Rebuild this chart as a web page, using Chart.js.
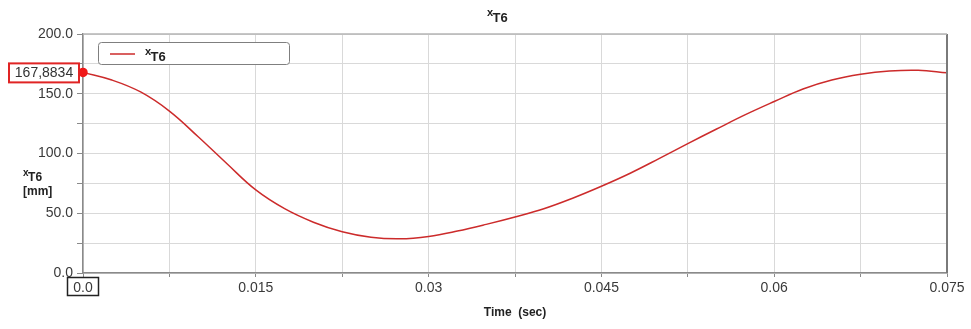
<!DOCTYPE html>
<html>
<head>
<meta charset="utf-8">
<script src="https://cdn.jsdelivr.net/npm/chart.js@4"></script>
<style>
  html, body { margin: 0; padding: 0; background: #fff; }
  #wrap { width: 971px; height: 329px; }
</style>
</head>
<body>
<div id="wrap"><canvas id="chart" width="971" height="329"></canvas></div>
<script>
// xT6 displacement over time

const timeSec = [0, 0.0025, 0.005, 0.0075, 0.01, 0.0125, 0.015, 0.0175, 0.02, 0.0225,
  0.025, 0.0275, 0.03, 0.0325, 0.035, 0.0375, 0.04, 0.0425, 0.045, 0.0475,
  0.05, 0.0525, 0.055, 0.0575, 0.06, 0.0625, 0.065, 0.0675, 0.07, 0.0725, 0.075];
const xT6 = [167.88, 161.5, 151.5, 135.5, 114.0, 91.4, 69.5, 53.8, 42.5, 34.5,
  29.9, 28.6, 30.6, 35.1, 40.7, 46.9, 53.8, 62.6, 72.6, 83.5,
  95.7, 108.3, 120.5, 132.5, 143.5, 154.0, 161.5, 166.3, 169.0, 169.6, 167.5];

const xTickValues = [0, 0.0075, 0.015, 0.0225, 0.03, 0.0375, 0.045, 0.0525, 0.06, 0.0675, 0.075];
const xTickLabels = ['0.0', '', '0.015', '', '0.03', '', '0.045', '', '0.06', '', '0.075'];
const yTickValues = [0, 25, 50, 75, 100, 125, 150, 175, 200];
const yTickLabels = ['0.0', '', '50.0', '', '100.0', '', '150.0', '', '200.0'];

const startLabel = '167,8834';
const FONT = '"Liberation Sans", Arial, sans-serif';

// draw a name like "xT6": small x raised, bold T6 below
function drawSubName(ctx, x, y, size) {
  ctx.fillStyle = '#222';
  ctx.textBaseline = 'alphabetic';
  ctx.textAlign = 'left';
  ctx.font = 'bold ' + Math.round(size * 0.85) + 'px ' + FONT;
  ctx.fillText('x', x, y - size * 0.45);
  const w = ctx.measureText('x').width;
  ctx.font = 'bold ' + size + 'px ' + FONT;
  ctx.fillText('T6', x + w - 0.5, y);
}

const decorations = {
  id: 'decorations',
  afterDraw(chart) {
    const ctx = chart.ctx;
    const area = chart.chartArea;
    ctx.save();

    // frame right and top
    ctx.strokeStyle = '#7a7a7a';
    ctx.lineWidth = 2;
    ctx.beginPath();
    ctx.moveTo(area.right, area.top);
    ctx.lineTo(area.right, area.bottom);
    ctx.stroke();
    ctx.strokeStyle = '#b5b5b5';
    ctx.lineWidth = 1.5;
    ctx.beginPath();
    ctx.moveTo(area.left, area.top);
    ctx.lineTo(area.right, area.top);
    ctx.stroke();

    // title
    drawSubName(ctx, 487, 22, 13);

    // y axis title
    drawSubName(ctx, 23, 181, 12);
    ctx.font = 'bold 12px ' + FONT;
    ctx.fillText('[mm]', 23, 195);

    // legend box
    ctx.strokeStyle = '#7f7f7f';
    ctx.lineWidth = 1;
    ctx.fillStyle = '#fff';
    ctx.beginPath();
    ctx.roundRect(98.5, 42.5, 191, 22, 3);
    ctx.fill();
    ctx.stroke();
    ctx.strokeStyle = '#cc2b2b';
    ctx.lineWidth = 1.5;
    ctx.beginPath();
    ctx.moveTo(110, 54);
    ctx.lineTo(135, 54);
    ctx.stroke();
    drawSubName(ctx, 145, 61, 13);

    // boxed start value
    const yScale = chart.scales.y;
    const py = yScale.getPixelForValue(xT6[0]);
    ctx.strokeStyle = '#e02424';
    ctx.lineWidth = 2;
    ctx.fillStyle = '#fff';
    ctx.fillRect(9, py - 9, 70, 19);
    ctx.strokeRect(9, py - 9, 70, 19);
    ctx.fillStyle = '#333';
    ctx.font = '14px ' + FONT;
    ctx.textAlign = 'center';
    ctx.textBaseline = 'middle';
    ctx.fillText(startLabel, 44, py + 1);

    // box around first x label
    ctx.strokeStyle = '#222';
    ctx.lineWidth = 1.5;
    ctx.strokeRect(67.5, 277.5, 31, 18);

    ctx.restore();
  }
};

const ctx = document.getElementById('chart');
new Chart(ctx, {
  type: 'line',
  data: {
    datasets: [{
      label: 'xT6',
      data: timeSec.map((t, i) => ({ x: t, y: xT6[i] })),
      borderColor: '#cc2b2b',
      borderWidth: 1.5,
      tension: 0.4,
      pointRadius: c => (c.dataIndex === 0 ? 4 : 0),
      pointBackgroundColor: '#f01818',
      pointBorderColor: '#f01818',
      clip: false,
      fill: false
    }]
  },
  options: {
    responsive: false,
    devicePixelRatio: 1,
    animation: false,
    layout: { padding: { top: 34, right: 24, left: 0, bottom: 0 } },
    plugins: {
      legend: { display: false },
      tooltip: { enabled: false },
      title: { display: false }
    },
    scales: {
      x: {
        type: 'linear',
        min: 0,
        max: 0.075,
        afterBuildTicks: s => { s.ticks = xTickValues.map(v => ({ value: v })); },
        afterFit: s => { s.height = 56; },
        grid: { color: '#d9d9d9', tickLength: 4, tickColor: '#8a8a8a' },
        border: { color: '#8a8a8a', width: 1.5 },
        ticks: {
          callback: (v, i) => xTickLabels[i],
          color: '#3a3a3a',
          font: { family: FONT, size: 14 },
          padding: 3,
          maxRotation: 0,
          autoSkip: false
        },
        title: {
          display: true,
          text: 'Time  (sec)',
          color: '#222',
          font: { family: FONT, size: 12, weight: 'bold' },
          padding: { top: 0, bottom: 9 }
        }
      },
      y: {
        min: 0,
        max: 200,
        afterBuildTicks: s => { s.ticks = yTickValues.map(v => ({ value: v })); },
        afterFit: s => { s.width = 83; },
        grid: { color: '#d9d9d9', tickLength: 6, tickColor: '#8a8a8a' },
        border: { color: '#8a8a8a', width: 1.5 },
        ticks: {
          callback: (v, i) => yTickLabels[i],
          color: '#3a3a3a',
          font: { family: FONT, size: 14 },
          padding: 4,
          autoSkip: false
        }
      }
    }
  },
  plugins: [decorations]
});
</script>
</body>
</html>
